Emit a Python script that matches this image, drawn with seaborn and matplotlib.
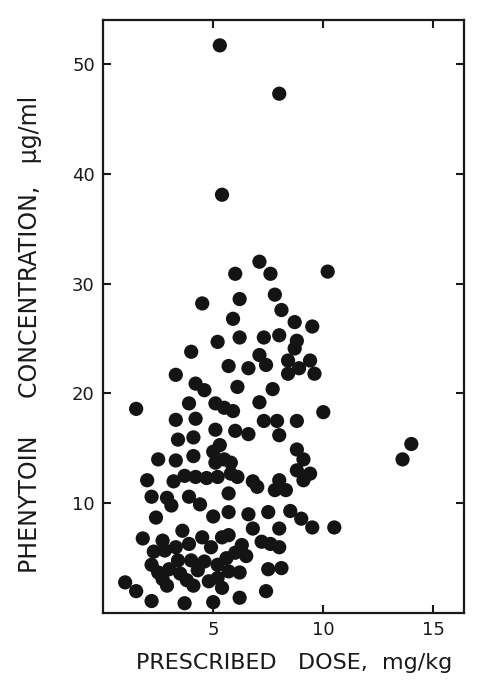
import matplotlib
matplotlib.use("Agg")
import matplotlib.pyplot as plt
import pandas as pd
import seaborn as sns

# prescribed dose (mg/kg) and serum phenytoin (ug/ml)
dose = [5.3, 8.0, 5.4, 7.1, 7.6, 10.2, 6.0, 7.8, 6.2, 4.5,
        8.1, 8.7, 9.5, 5.9, 6.2, 5.2, 7.3, 8.0, 8.8, 8.7,
        4.0, 7.1, 7.4, 8.4, 8.9, 9.4, 9.6, 8.4, 5.7, 6.6,
        3.3, 4.2, 4.6, 6.1, 7.7, 10.0, 1.5, 3.9, 4.2, 3.3,
        5.1, 5.5, 5.9, 7.1, 7.3, 7.9, 8.8, 5.1, 6.0, 6.6,
        8.0, 14.0, 13.6, 3.4, 4.1, 8.8, 9.1, 8.8, 9.4, 9.1,
        2.5, 3.3, 4.1, 5.0, 5.1, 5.5, 5.8, 5.8, 6.1, 2.0,
        3.2, 3.7, 4.2, 4.7, 5.2, 6.8, 7.0, 8.0, 7.8, 8.3,
        5.7, 2.2, 2.9, 3.1, 3.9, 4.4, 5.0, 5.7, 2.4, 6.6,
        7.5, 8.5, 9.0, 9.5, 10.5, 6.8, 8.0, 1.8, 2.7, 2.3,
        2.8, 2.2, 2.5, 2.7, 2.9, 1.0, 1.5, 2.2, 3.7, 4.1,
        5.0, 3.6, 3.9, 4.5, 4.9, 5.4, 3.4, 4.0, 4.6, 5.2,
        5.7, 3.0, 3.5, 5.2, 5.4, 5.7, 6.3, 6.0, 6.5, 7.2,
        7.6, 8.0, 6.2, 7.5, 8.1, 6.2, 7.4, 5.3, 3.3, 4.3,
        4.8, 3.8, 5.6]
conc = [51.7, 47.3, 38.1, 32.0, 30.9, 31.1, 30.9, 29.0, 28.6, 28.2,
        27.6, 26.5, 26.1, 26.8, 25.1, 24.7, 25.1, 25.3, 24.8, 24.1,
        23.8, 23.5, 22.6, 23.0, 22.3, 23.0, 21.8, 21.8, 22.5, 22.3,
        21.7, 20.9, 20.3, 20.6, 20.4, 18.3, 18.6, 19.1, 17.7, 17.6,
        19.1, 18.7, 18.4, 19.2, 17.5, 17.5, 17.5, 16.7, 16.6, 16.3,
        16.2, 15.4, 14.0, 15.8, 16.0, 14.9, 14.0, 13.0, 12.7, 12.1,
        14.0, 13.9, 14.3, 14.7, 13.7, 14.0, 13.7, 12.7, 12.4, 12.1,
        12.0, 12.5, 12.4, 12.3, 12.4, 12.0, 11.5, 12.1, 11.2, 11.2,
        10.9, 10.6, 10.5, 9.8, 10.6, 9.9, 8.8, 9.2, 8.7, 9.0,
        9.2, 9.3, 8.6, 7.8, 7.8, 7.7, 7.7, 6.8, 6.6, 5.6,
        5.7, 4.4, 3.7, 3.1, 2.5, 2.8, 2.0, 1.1, 0.9, 2.5,
        1.0, 7.5, 6.3, 6.9, 6.0, 6.9, 4.8, 4.8, 4.7, 4.4,
        3.8, 4.0, 3.6, 3.2, 2.3, 7.1, 6.2, 5.5, 5.2, 6.5,
        6.3, 6.0, 3.7, 4.0, 4.1, 1.4, 2.0, 15.3, 6.0, 3.9,
        2.9, 3.0, 5.0]

x_ticks = [5, 10, 15]
y_ticks = [10, 20, 30, 40, 50]

df = pd.DataFrame({"dose": dose, "conc": conc})

sns.set_style("ticks")
plt.rcParams["font.family"] = ["DejaVu Sans"]

fig = plt.figure(figsize=(4.82, 6.82), dpi=100)
ax = fig.add_axes([0.214, 0.101, 0.749, 0.8695])

sns.scatterplot(data=df, x="dose", y="conc", ax=ax, color="#141414",
                s=105, edgecolor="none", linewidth=0, legend=False)

ax.set_xlim(0, 16.4)
ax.set_ylim(0, 54)
ax.set_xticks(x_ticks)
ax.set_yticks(y_ticks)
ax.tick_params(direction="in", length=6, width=1.5, top=True, right=True,
               labelsize=13, colors="#1a1a1a", pad=6)
for sp in ax.spines.values():
    sp.set_linewidth(1.6)
    sp.set_color("#1a1a1a")

ax.set_xlabel("PRESCRIBED   DOSE,  mg/kg", fontsize=16, color="#1a1a1a")
ax.set_ylabel("PHENYTOIN     CONCENTRATION,   \u03bcg/ml", fontsize=17,
              color="#1a1a1a")
ax.xaxis.set_label_coords(0.53, -0.068)
ax.yaxis.set_label_coords(-0.17, 0.47)

fig.savefig("out.png", dpi=100)
